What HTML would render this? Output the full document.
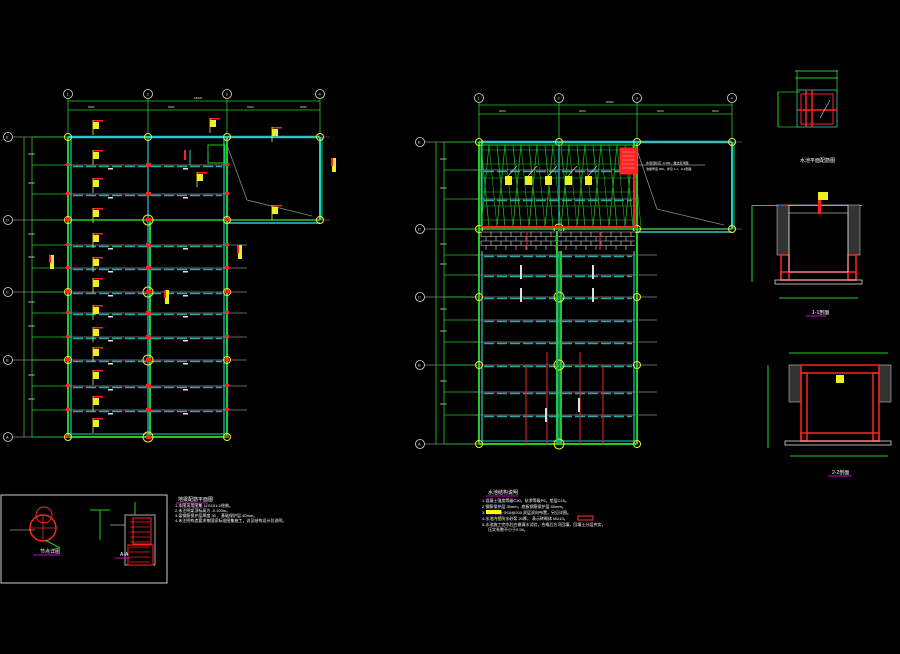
<!DOCTYPE html>
<html><head><meta charset="utf-8"><style>
html,body{margin:0;padding:0;background:#000;width:900px;height:654px;overflow:hidden}
svg{display:block}
text{font-family:"Liberation Sans","Noto Sans CJK SC",sans-serif}
</style></head><body>
<svg id="s" width="900" height="654" viewBox="0 0 900 654" xmlns="http://www.w3.org/2000/svg">
<rect width="900" height="654" fill="#000"/>
<g id="g"></g>
<g fill="#fff" font-size="4">
<text x="178" y="501" font-size="5">地梁配筋平面图</text>
<text x="175" y="507">1.本图采用图集 11G101-1绘制。</text>
<text x="175" y="512">2.未注明梁顶标高为 -0.100m。</text>
<text x="175" y="517">3.梁钢筋保护层厚度 30 ，基础保护层 40mm。</text>
<text x="175" y="522">4.未注明构造要求按国家标准图集施工，详见结构设计总说明。</text>
<text x="488" y="494" font-size="5">水池结构说明</text>
<text x="482" y="502">1.混凝土强度等级C30，抗渗等级P6，垫层C15。</text>
<text x="482" y="508">2.钢筋保护层 35mm，底板钢筋保护层 50mm。</text>
<text x="482" y="514">3.      表示钢筋 Φ10@200 双层双向布置，另见详图。</text>
<text x="482" y="520">4.水池内壁防水砂浆 20厚，      表示砖砌体 MU10。</text>
<text x="482" y="526">5.水池施工完毕后应做满水试验，合格后方可回填，回填土分层夯实，</text>
<text x="488" y="531">压实系数不小于0.94。</text>
<text x="120" y="556" font-size="5">A-A</text>
<text x="40" y="553" font-size="5">节点详图</text>
<text x="812" y="314" font-size="5">1-1剖面</text>
<text x="832" y="474" font-size="5">2-2剖面</text>
<text x="800" y="162" font-size="5">水池平面配筋图</text>
</g>
<g stroke="#c0c" stroke-width="1">
<line x1="176" y1="503" x2="208" y2="503"/><line x1="486" y1="496" x2="518" y2="496"/>
<line x1="33" y1="555" x2="60" y2="555"/><line x1="115" y1="558" x2="130" y2="558"/>
<line x1="806" y1="316" x2="826" y2="316"/><line x1="828" y1="476" x2="852" y2="476"/>
</g>
<rect x="486" y="510" width="15" height="4" fill="#ff0"/>
<rect x="578" y="516" width="15" height="4" fill="none" stroke="#f33"/>
</svg>
<script>
var g=document.getElementById('g'),h='';
function L(x1,y1,x2,y2,c,w,d){h+='<line x1="'+x1+'" y1="'+y1+'" x2="'+x2+'" y2="'+y2+'" stroke="'+c+'" stroke-width="'+(w||1)+'"'+(d?' stroke-dasharray="'+d+'"':'')+'/>';}
function R(x,y,w,hh,f,s,sw){h+='<rect x="'+x+'" y="'+y+'" width="'+w+'" height="'+hh+'" fill="'+(f||'none')+'" stroke="'+(s||'none')+'" stroke-width="'+(sw||1)+'"/>';}
function C(x,y,r,c,w){h+='<circle cx="'+x+'" cy="'+y+'" r="'+r+'" fill="none" stroke="'+c+'" stroke-width="'+(w||1)+'"/>';}
function T(x,y,t,c,s){h+='<text x="'+x+'" y="'+y+'" fill="'+c+'" font-size="'+(s||4)+'">'+t+'</text>';}
var G='#2c2',CY='#2cc',Y='#ee2',RD='#f22',W='#ddd',GR='#888';
function plan(cols,rows,mids,topY,dimX,annexR,p){
  var x0=cols[0],x2=cols[2],x3=cols[3];
  var lab=['1','2','3','4'];
  cols.forEach(function(x,i){C(x,topY,4.5,W,0.8);T(x-1.5,topY+1.5,lab[i],W,4);L(x,topY+5,x,rows[0]-3,G,0.8);});
  L(x0,topY+7,x3,topY+7,G,0.8);L(x0,topY+16,x3,topY+16,G,0.8);
  cols.forEach(function(x){T(x+ (x==x3?-20:20),topY+14,'6000',W,3);});
  T((x0+x3)/2,topY+5,'18000',W,3);
  var rl=['E','D','C','B','A'];
  rows.forEach(function(y,i){C(dimX-16,y,4.5,W,0.8);T(dimX-18,y+1.5,rl[i],W,4);L(dimX-11,y,x0,y,GR,0.8);});
  L(dimX,rows[0],dimX,rows[4],G,0.8);L(dimX+8,rows[0],dimX+8,rows[4],G,0.8);
  mids.concat(rows).forEach(function(y){L(dimX+8,y,x0,y,G,0.7);});
  mids.forEach(function(y,i){T(dimX+4,y-10,'3000',W,3);});
  var yb=rows[4];
  L(x0,rows[0],x0,yb,G,2);L(x0+3,rows[0],x0+3,yb,CY,1.2);
  L(x2,rows[0],x2,yb,G,2);L(x2-3,rows[0],x2-3,yb,CY,1.2);
  L(cols[1],rows[0],cols[1],yb,CY,1.2);L(cols[1]+2,rows[1],cols[1]+2,yb,G,2);
  L(x0,yb,x2,yb,G,2);L(x0,yb-3,x2,yb-3,CY,1);
  L(x0,rows[0],x3,rows[0],CY,2.5);L(x0,rows[1],x3,rows[1],G,1.5);L(x2,rows[1]+3,x3,rows[1]+3,CY,1.5);
  L(x3,rows[0],x3,rows[1],CY,2);L(x3+2,rows[0],x3+2,rows[1],G,1);
  L(x2,rows[0]+8,x2+20,rows[1]-20,GR,0.8);L(x2+20,rows[1]-20,x3-8,rows[1]-4,GR,0.8);
  mids.concat([rows[2],rows[3]]).forEach(function(y){
    if(y>rows[1]){L(x0-5,y,x2+20,y,GR,0.8);}else{L(x0-5,y,x2,y,GR,0.8);}
    L(x0+5,y+1.5,x2-5,y+1.5,'#2aa',1.5,'10 3');
    if(p.red){R(x0+40,y+3,5,1.5,W);R(x0+115,y+3,5,1.5,W);}
  });
  L(x2,rows[0],x3+10,rows[0],GR,0.6);L(x2,rows[1],x3+10,rows[1],GR,0.6);
  rows.forEach(function(y,i){cols.slice(0,3).forEach(function(x,j){C(x,y,(j==1&&i>0)?5:3.5,Y,1);});});
  C(x3,rows[0],3.5,Y,1);C(x3,rows[1],3.5,Y,1);
  if(p.red){mids.concat(rows).forEach(function(y,i){if(y>rows[0]){R(x0-2,y-2,4,3,RD);R(cols[1]-2,y-2,5,4,RD);R(x2-2,y-2,4,3,RD);}});}
}
plan([68,148,227,320],[137,220,292,360,437],[165,194,245,268,313,337,386,410],94,24,1,{red:1});
[[93,120],[93,150],[93,178],[93,208],[93,233],[93,257],[93,278],[93,305],[93,327],[93,347],[93,370],[93,396],[93,418],[210,118],[197,172],[272,127],[272,205]].forEach(function(a){R(a[0],a[1],10,1.5,RD);R(a[0],a[1]+2,6,7,Y);L(a[0],a[1],a[0],a[1]+15,Y,0.8);});
[[50,255],[238,245],[165,290],[332,158]].forEach(function(a){R(a[0],a[1],4,14,Y);R(a[0]-1,a[1],2,8,RD);});
R(208,145,17,18,'none',G,1);L(190,150,190,165,CY,1);L(185,150,185,160,RD,2);
plan([479,559,637,732],[142,229,297,365,444],[170,199,255,275,320,342,392,415],98,436,1,{});
R(481,145,154,82,'none',G,1);
for(var y=150;y<228;y+=14){L(481,y,635,y,G,0.6);}
for(var x=481;x<640;x+=16){L(x,145,x+8,227,G,0.7);L(x+8,145,x,227,G,0.7);L(x+8,145,x+16,227,G,0.5);}
L(481,227,637,227,RD,2);L(634,160,634,227,RD,2);
R(620,148,17,26,RD,RD);for(var y=152;y<172;y+=4)L(622,y,635,y,'#faa',0.5);
L(637,165,705,165,W,0.6);T(646,164,'水池顶标高 -0.300，做法见详图','#fff',3);T(646,170,'池壁厚度 300，详见 1-1、2-2剖面','#fff',3);
[505,525,545,565,585].forEach(function(x){R(x,176,7,9,Y);L(x+3,176,x+12,166,W,0.6);});
R(481,231,154,20,'#000');
for(var y=232;y<250;y+=4.5){L(481,y,635,y,W,0.6);}
for(var r=0;r<4;r++){for(var x=481+(r%2)*5;x<635;x+=10){L(x,232+r*4.5,x,236.5+r*4.5,W,0.6);}}
L(557,231,557,444,G,2);
[[527,232,250],[600,232,250],[526,365,444],[547,352,444],[580,352,444],[603,365,444]].forEach(function(a){L(a[0],a[1],a[0],a[2],'#c22',1.2);});
[[520,265],[520,288],[592,265],[592,288],[545,408],[578,398]].forEach(function(a){R(a[0],a[1],2,14,W);});
R(797,90,40,37,'none',CY,0.8);R(801,94,32,30,'none',RD,1);L(806,90,806,127,RD,1.5);L(812,90,812,127,RD,1.5);L(797,110,837,110,RD,1.5);
L(795,71,838,71,G,1);L(795,78,838,78,G,1);L(797,70,797,92,G,0.8);L(837,70,837,92,G,0.8);L(778,92,778,127,G,1);L(778,92,800,92,G,0.8);L(778,127,800,127,G,0.8);
L(820,118,830,100,W,0.6);
R(752,205,110,1,G);L(752,205,752,282,G,1);
R(777,205,12,50,'#333','#ddd',0.5);R(848,205,12,50,'#333','#ddd',0.5);
R(789,205,59,8,'none',W,0.6);
R(781,255,8,25,'none',RD,1.5);R(848,255,8,25,'none',RD,1.5);R(781,272,75,8,'none',RD,1.5);
L(789,272,848,272,W,0.8);L(789,213,789,272,W,0.8);L(848,213,848,272,W,0.8);
R(775,280,87,4,'none',W,0.8);L(779,298,858,298,G,1);
R(818,200,3,14,RD);R(818,192,10,8,Y);
L(789,353,888,353,G,1);L(768,365,768,448,G,1);
R(789,365,12,37,'#333','#ddd',0.5);R(879,365,12,37,'#333','#ddd',0.5);
R(801,365,78,8,'none',RD,1.5);R(801,373,6,68,'none',RD,1.5);R(873,373,6,68,'none',RD,1.5);R(801,433,78,8,'none',RD,1.5);
R(785,441,106,4,'none',W,0.8);L(790,456,888,456,G,1);R(836,375,8,8,Y);
R(1,495,166,88,'none','#ccc',1);
C(44,515,8,RD,1);C(43,528,13,RD,1.5);L(30,528,56,528,RD,0.8);L(43,515,43,541,RD,0.8);
L(45,540,60,548,G,1);L(10,530,35,530,W,0.6);
R(125,515,30,50,'none',W,0.8);R(133,518,18,26,'none',RD,1);R(128,545,25,20,'none',RD,1);
for(var y=522;y<565;y+=5)L(130,y,150,y,RD,0.7);
L(110,525,125,525,W,0.6);L(90,510,110,510,G,1);L(100,510,100,540,G,1);L(135,502,135,515,G,1);
g.innerHTML=h;
</script>
</body></html>
